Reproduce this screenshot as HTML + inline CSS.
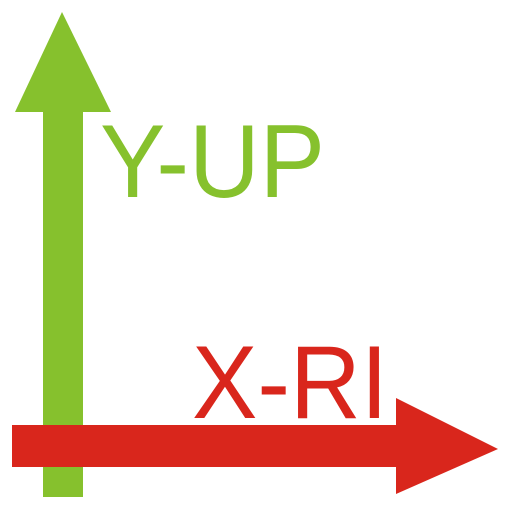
<!DOCTYPE html>
<html><head><meta charset="utf-8"><style>html,body{margin:0;padding:0;background:#fff}svg{display:block}.t{font-family:"Liberation Sans",Arial,sans-serif}</style></head>
<body>
<svg width="511" height="511" viewBox="0 0 511 511">
  <g fill="#86c12d">
    <rect x="43" y="108" width="40" height="389"/>
    <polygon points="62,12 111,112 15,112"/>
  </g>
  <text class="t" x="100" y="197" font-size="104" fill="#86c12d" textLength="225" lengthAdjust="spacingAndGlyphs">Y-UP</text>
  <text class="t" x="192" y="418" font-size="104" fill="#d9261c" textLength="196" lengthAdjust="spacingAndGlyphs">X-RI</text>
  <g fill="#d9261c">
    <rect x="12" y="425" width="388" height="42"/>
    <polygon points="396,398 498,449 396,494"/>
  </g>
</svg>
</body></html>
